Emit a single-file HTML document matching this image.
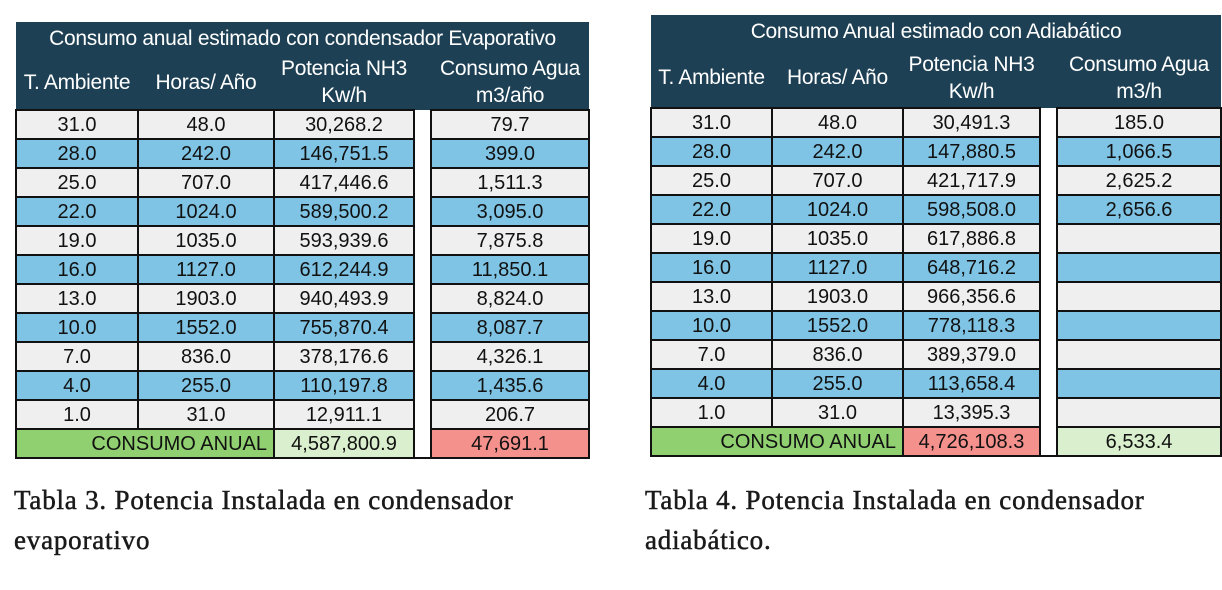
<!DOCTYPE html>
<html><head><meta charset="utf-8"><style>
body{margin:0;width:1222px;height:590px;background:#fff;position:relative;overflow:hidden;font-family:"Liberation Sans",sans-serif}
table{position:absolute;border-collapse:collapse;table-layout:fixed;font-size:20px;color:#111}
td{padding:0;text-align:center;border:2px solid #111;line-height:1;overflow:hidden;white-space:nowrap}
.h td{background:#1e4054;color:#fff;border:none;font-size:21px;line-height:27px;letter-spacing:-0.3px}
.g{background:#efefef}.b{background:#7fc4e4}
td.gap{background:#fff;border-top:none;border-bottom:none}
.tot td.gr{background:#90d070;text-align:right;padding-right:6px}
.pk{background:#f4918d}.lg{background:#d9efcd}
.cap{position:absolute;font-family:"Liberation Serif",serif;font-size:27px;letter-spacing:0.8px;color:#1a1a1a;line-height:40px;-webkit-text-stroke:0.5px #1a1a1a}
</style></head><body>

<table style="left:15px;top:22px;width:573px">
<colgroup><col style="width:122px"><col style="width:136px"><col style="width:140px"><col style="width:17px"><col style="width:158px"></colgroup>
<tr class="h" style="height:33px"><td colspan="5">Consumo anual estimado con condensador Evaporativo</td></tr>
<tr class="h" style="height:55px"><td>T. Ambiente</td><td>Horas/ Año</td><td>Potencia NH3<br>Kw/h</td><td></td><td>Consumo Agua<br>m3/año</td></tr>
<tr class="g" style="height:29px"><td>31.0</td><td>48.0</td><td>30,268.2</td><td class="gap"></td><td>79.7</td></tr>
<tr class="b" style="height:29px"><td>28.0</td><td>242.0</td><td>146,751.5</td><td class="gap"></td><td>399.0</td></tr>
<tr class="g" style="height:29px"><td>25.0</td><td>707.0</td><td>417,446.6</td><td class="gap"></td><td>1,511.3</td></tr>
<tr class="b" style="height:29px"><td>22.0</td><td>1024.0</td><td>589,500.2</td><td class="gap"></td><td>3,095.0</td></tr>
<tr class="g" style="height:29px"><td>19.0</td><td>1035.0</td><td>593,939.6</td><td class="gap"></td><td>7,875.8</td></tr>
<tr class="b" style="height:29px"><td>16.0</td><td>1127.0</td><td>612,244.9</td><td class="gap"></td><td>11,850.1</td></tr>
<tr class="g" style="height:29px"><td>13.0</td><td>1903.0</td><td>940,493.9</td><td class="gap"></td><td>8,824.0</td></tr>
<tr class="b" style="height:29px"><td>10.0</td><td>1552.0</td><td>755,870.4</td><td class="gap"></td><td>8,087.7</td></tr>
<tr class="g" style="height:29px"><td>7.0</td><td>836.0</td><td>378,176.6</td><td class="gap"></td><td>4,326.1</td></tr>
<tr class="b" style="height:29px"><td>4.0</td><td>255.0</td><td>110,197.8</td><td class="gap"></td><td>1,435.6</td></tr>
<tr class="g" style="height:29px"><td>1.0</td><td>31.0</td><td>12,911.1</td><td class="gap"></td><td>206.7</td></tr>
<tr class="tot" style="height:29px"><td colspan="2" class="gr">CONSUMO ANUAL</td><td class="lg">4,587,800.9</td><td class="gap" style="border-bottom:2px solid #111"></td><td class="pk">47,691.1</td></tr>
</table>

<table style="left:650px;top:15px;width:570px">
<colgroup><col style="width:121px"><col style="width:131px"><col style="width:137px"><col style="width:17px"><col style="width:164px"></colgroup>
<tr class="h" style="height:33px"><td colspan="5">Consumo Anual estimado con Adiabático</td></tr>
<tr class="h" style="height:60px"><td>T. Ambiente</td><td>Horas/ Año</td><td>Potencia NH3<br>Kw/h</td><td></td><td>Consumo Agua<br>m3/h</td></tr>
<tr class="g" style="height:29px"><td>31.0</td><td>48.0</td><td>30,491.3</td><td class="gap"></td><td>185.0</td></tr>
<tr class="b" style="height:29px"><td>28.0</td><td>242.0</td><td>147,880.5</td><td class="gap"></td><td>1,066.5</td></tr>
<tr class="g" style="height:29px"><td>25.0</td><td>707.0</td><td>421,717.9</td><td class="gap"></td><td>2,625.2</td></tr>
<tr class="b" style="height:29px"><td>22.0</td><td>1024.0</td><td>598,508.0</td><td class="gap"></td><td>2,656.6</td></tr>
<tr class="g" style="height:29px"><td>19.0</td><td>1035.0</td><td>617,886.8</td><td class="gap"></td><td></td></tr>
<tr class="b" style="height:29px"><td>16.0</td><td>1127.0</td><td>648,716.2</td><td class="gap"></td><td></td></tr>
<tr class="g" style="height:29px"><td>13.0</td><td>1903.0</td><td>966,356.6</td><td class="gap"></td><td></td></tr>
<tr class="b" style="height:29px"><td>10.0</td><td>1552.0</td><td>778,118.3</td><td class="gap"></td><td></td></tr>
<tr class="g" style="height:29px"><td>7.0</td><td>836.0</td><td>389,379.0</td><td class="gap"></td><td></td></tr>
<tr class="b" style="height:29px"><td>4.0</td><td>255.0</td><td>113,658.4</td><td class="gap"></td><td></td></tr>
<tr class="g" style="height:29px"><td>1.0</td><td>31.0</td><td>13,395.3</td><td class="gap"></td><td></td></tr>
<tr class="tot" style="height:29px"><td colspan="2" class="gr">CONSUMO ANUAL</td><td class="pk">4,726,108.3</td><td class="gap" style="border-bottom:2px solid #111"></td><td class="lg">6,533.4</td></tr>
</table>

<div class="cap" style="left:14px;top:480px">Tabla 3. Potencia Instalada en condensador<br>evaporativo</div>
<div class="cap" style="left:645px;top:480px">Tabla 4. Potencia Instalada en condensador<br>adiabático.</div>
</body></html>
